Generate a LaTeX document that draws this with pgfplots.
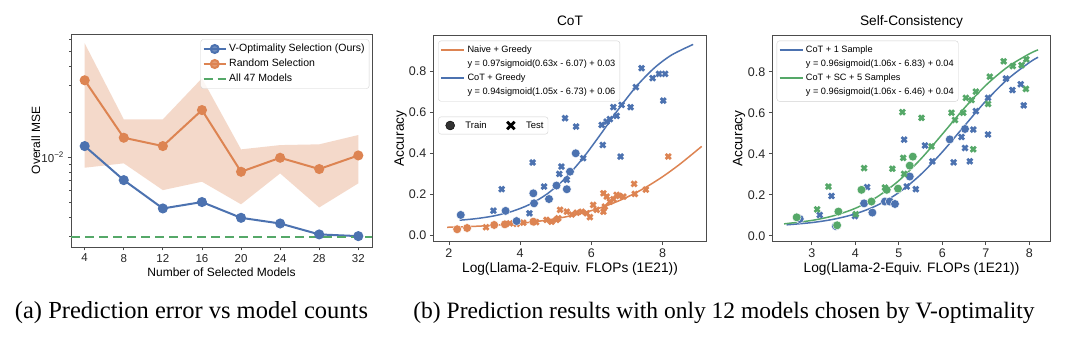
\documentclass[border=0pt]{standalone}
\usepackage{pgfplots}
\pgfplotsset{compat=1.18}
\usepackage{fontspec}
\setmainfont{Liberation Sans}
\newfontfamily\capfont{Liberation Serif}
\definecolor{cblue}{HTML}{4C72B0}
\definecolor{corange}{HTML}{DD8452}
\definecolor{cgreen}{HTML}{55A868}
\pgfplotsset{
  base/.style={scale only axis, anchor=south west,
    axis line style={draw=black!70, line width=0.8pt},
    every tick/.style={draw=black!70, line width=0.8pt},
    tick align=outside, major tick length=3.5pt, minor tick length=2pt,
    tick pos=left,
    tick label style={font=\fontsize{11.5}{13}\selectfont, text=black!85},
    label style={font=\fontsize{12}{14}\selectfont},
    title style={font=\fontsize{12}{14}\selectfont, at={(axis description cs:0.5,1)}, anchor=base, yshift=4.5pt},
    /pgf/number format/assume math mode=true,
    legend cell align=left,
    clip=false,
  },
  big/.style={
    tick label style={font=\fontsize{12.5}{14}\selectfont, text=black!85},
    label style={font=\fontsize{13.7}{16}\selectfont},
    title style={font=\fontsize{13.7}{16}\selectfont},
  },
  lg/.style={legend style={draw=black!18, rounded corners=2.5pt, fill=white, fill opacity=0.8, text opacity=1, draw opacity=1,
    inner xsep=2pt, inner ysep=2pt, row sep=0pt}},
  trn/.style={only marks, mark=*, mark size=4.4pt, mark options={fill=#1, draw=white, line width=0.4pt}},
  tst/.style={only marks, mark=x, mark size=3.6pt, mark options={draw=#1, line width=2.7pt}},
  fit/.style={#1, line width=1.5pt, smooth, no marks},
}
\begin{document}
\begin{tikzpicture}[x=1pt,y=1pt]
\useasboundingbox (0,0) rectangle (1080,343);
\fill[white] (0,0) rectangle (1080,343);

% ---------------- Panel (a)
\begin{axis}[base, lg, at={(71pt,96pt)}, width=301pt, height=213pt,
  xmin=2.6, xmax=33.4, ymode=log, ymin=2.55e-3, ymax=6.56e-2,
  xtick={4,8,12,16,20,24,28,32},
  ytick={0.01}, yticklabels={10\textsuperscript{−2}},
  minor ytick={0.003,0.004,0.005,0.006,0.007,0.008,0.009,0.02,0.03,0.04,0.05,0.06},
  xlabel={Number of Selected Models}, ylabel={Overall MSE},
  xlabel style={at={(axis description cs:0.5,0)}, anchor=base, yshift=-29pt},
  ylabel style={at={(axis description cs:0,0.5)}, anchor=base, yshift=31pt},
  legend style={at={(1,1)}, anchor=north east, xshift=-2.7pt, yshift=-5.3pt,
    font=\fontsize{10.5}{12}\selectfont,
    nodes={inner xsep=2.5pt, inner ysep=2.35pt, text height=8pt, text depth=2.3pt}},
  legend image code/.code={\draw[#1, mark repeat=2, mark phase=2] plot coordinates {(0pt,0pt) (11pt,0pt) (22pt,0pt)};},
]
\addplot[draw=none, fill=corange, fill opacity=0.3, forget plot] coordinates {
(4,0.0569) (8,0.01787) (12,0.01787) (16,0.0334) (20,0.0113) (24,0.01206) (28,0.0122) (32,0.01406)
(32,0.00673) (28,0.00466) (24,0.00783) (20,0.00489) (16,0.0069) (12,0.00607) (8,0.00913) (4,0.00854)};
\addplot[cblue, line width=2pt, mark=*, mark size=4pt, mark options={fill=cblue, draw=cblue}] coordinates {
(4,0.01188) (8,0.00707) (12,0.00459) (16,0.00506) (20,0.00398) (24,0.00365) (28,0.00309) (32,0.00301)};
\addlegendentry{V-Optimality Selection (Ours)}
\addplot[corange, line width=2pt, mark=*, mark size=4pt, mark options={fill=corange, draw=corange}] coordinates {
(4,0.0324) (8,0.01349) (12,0.01188) (16,0.02057) (20,0.00803) (24,0.00994) (28,0.00837) (32,0.0103)};
\addlegendentry{Random Selection}
\addplot[cgreen, line width=2pt, dash pattern=on 9pt off 5pt] coordinates {(2.6,0.00295) (33.4,0.00295)};
\addlegendentry{All 47 Models}
\end{axis}

% ---------------- Panel (b) CoT
\begin{axis}[base, big, lg, at={(433.3pt,101.3pt)}, width=273.4pt, height=206pt,
  xmin=1.56, xmax=9.24, ymin=-0.033, ymax=0.976,
  xtick={2,4,6,8}, ytick={0,0.2,0.4,0.6,0.8},
  yticklabel style={/pgf/number format/.cd, fixed, fixed zerofill, precision=1},
  title={CoT},
  xlabel={Log(Llama-2-Equiv. FLOPs (1E21))}, ylabel={Accuracy},
  xlabel style={at={(axis description cs:0.5,0)}, anchor=base, yshift=-31pt},
  ylabel style={at={(axis description cs:0,0.5)}, anchor=base, yshift=29.5pt},
  legend style={at={(0,1)}, anchor=north west, xshift=5pt, yshift=-5pt,
    font=\fontsize{9.2}{11}\selectfont,
    nodes={inner xsep=2.5pt, inner ysep=2.45pt, text height=7.2pt, text depth=2pt}},
  legend image code/.code={\draw[#1] (0pt,0pt) -- (23pt,0pt);},
]
\addplot[trn=corange, forget plot] coordinates {(2.23,0.028) (2.51,0.034) (3.27,0.049) (3.57,0.052) (4.37,0.065)};
\addplot[tst=corange, forget plot] coordinates {
(3.04,0.038) (3.71,0.057) (3.90,0.054) (4.09,0.060) (4.45,0.063) (4.74,0.074) (4.88,0.065) (5.02,0.074) (5.07,0.082)
(5.12,0.123) (5.31,0.114) (5.45,0.100) (5.59,0.109) (5.73,0.114) (5.87,0.106) (5.96,0.087) (6.05,0.147) (6.15,0.123)
(6.34,0.114) (6.38,0.139) (6.34,0.204) (6.43,0.188) (6.52,0.163) (6.62,0.175) (6.71,0.196) (6.78,0.191) (6.90,0.188)
(7.22,0.201) (7.20,0.250) (7.53,0.222) (8.16,0.384)};
\addplot[trn=cblue, forget plot] coordinates {
(2.33,0.098) (3.59,0.118) (3.90,0.068) (4.37,0.204) (4.39,0.155) (4.81,0.176) (5.02,0.242) (5.31,0.224) (5.40,0.310) (5.56,0.400)};
\addplot[tst=cblue, forget plot] coordinates {
(3.25,0.119) (3.48,0.224) (4.26,0.106) (4.35,0.355) (4.67,0.237) (5.10,0.299) (5.16,0.335) (5.31,0.270)
(5.26,0.572) (5.57,0.531) (5.77,0.376) (6.29,0.539) (6.32,0.441) (6.43,0.555) (6.52,0.567) (6.62,0.626)
(6.71,0.583) (6.82,0.384) (6.85,0.637) (7.10,0.626) (7.25,0.724) (7.41,0.817) (7.72,0.768) (7.90,0.789)
(8.07,0.789) (8.02,0.658)};
\addplot[fit=corange] coordinates {
(1.95,0.0376) (2.5,0.0407) (3,0.0446) (3.5,0.0499) (4,0.0571) (4.5,0.0667) (5,0.0796) (5.5,0.0968)
(6,0.1192) (6.5,0.1482) (7,0.1850) (7.5,0.2305) (8,0.2852) (8.5,0.3487) (9.1,0.4340)};
\addlegendentry{Naive + Greedy}
\addlegendimage{empty legend}
\addlegendentry{y = 0.97sigmoid(0.63x - 6.07) + 0.03}
\addplot[fit=cblue] coordinates {
(2.3,0.0724) (2.75,0.0797) (3.25,0.0929) (3.75,0.1143) (4.25,0.1482) (4.75,0.2001) (5.25,0.2747) (5.75,0.3735)
(6.25,0.4907) (6.75,0.6132) (7.25,0.7249) (7.75,0.8151) (8.25,0.8811) (8.86,0.9333)};
\addlegendentry{CoT + Greedy}
\addlegendimage{empty legend}
\addlegendentry{y = 0.94sigmoid(1.05x - 6.73) + 0.06}
\end{axis}
% Train/Test legend
\begin{axis}[scale only axis, anchor=south west, at={(433.3pt,101.3pt)}, width=273.4pt, height=206pt,
  hide axis, xmin=0, xmax=1, ymin=0, ymax=1, lg, legend columns=2,
  legend style={at={(0,1)}, anchor=north west, xshift=5pt, yshift=-81pt,
    font=\fontsize{9.5}{11}\selectfont,
    /tikz/every even column/.append style={column sep=12pt},
    nodes={inner xsep=2.5pt, inner ysep=2pt, text height=7.2pt, text depth=2pt}},
]
\addlegendimage{legend image code/.code={\path (0pt,0pt) (22pt,0pt); \fill[black] (9.5pt,0pt) circle[radius=4.5pt];}}
\addlegendentry{Train}
\addlegendimage{legend image code/.code={\path (0pt,0pt) (22pt,0pt); \draw[black, line width=2.8pt] (5.8pt,-3.7pt) -- (13.2pt,3.7pt) (5.8pt,3.7pt) -- (13.2pt,-3.7pt);}}
\addlegendentry{Test}
\end{axis}

% ---------------- Panel (b) Self-Consistency
\begin{axis}[base, big, lg, at={(772.3pt,101.3pt)}, width=278.4pt, height=206pt,
  xmin=2.09, xmax=8.49, ymin=-0.029, ymax=0.976,
  xtick={3,4,5,6,7,8}, ytick={0,0.2,0.4,0.6,0.8},
  yticklabel style={/pgf/number format/.cd, fixed, fixed zerofill, precision=1},
  title={Self-Consistency},
  xlabel={Log(Llama-2-Equiv. FLOPs (1E21))}, ylabel={Accuracy},
  xlabel style={at={(axis description cs:0.5,0)}, anchor=base, yshift=-31pt},
  ylabel style={at={(axis description cs:0,0.5)}, anchor=base, yshift=30pt},
  legend style={at={(0,1)}, anchor=north west, xshift=4.4pt, yshift=-5pt,
    font=\fontsize{9.2}{11}\selectfont,
    nodes={inner xsep=2.5pt, inner ysep=2.45pt, text height=7.2pt, text depth=2pt}},
  legend image code/.code={\draw[#1] (0pt,0pt) -- (23pt,0pt);},
]
\addplot[trn=cblue, forget plot] coordinates {
(2.72,0.082) (3.55,0.047) (4.20,0.158) (4.39,0.113) (4.68,0.167) (4.79,0.167) (4.91,0.155) (5.25,0.289) (6.17,0.470) (6.52,0.521)};
\addplot[tst=cblue, forget plot] coordinates {
(3.18,0.101) (3.45,0.194) (3.99,0.096) (4.27,0.237) (5.12,0.469) (5.18,0.240) (5.39,0.227) (5.60,0.440)
(5.77,0.363) (6.26,0.358) (6.44,0.482) (6.52,0.428) (6.63,0.363) (6.71,0.518) (6.77,0.608) (7.05,0.494)
(7.05,0.673) (7.46,0.767) (7.61,0.711) (7.80,0.739) (7.87,0.636)};
\addplot[trn=cgreen, forget plot] coordinates {
(2.65,0.090) (3.58,0.051) (3.61,0.118) (4.14,0.224) (4.37,0.167) (4.72,0.224) (4.98,0.230) (5.25,0.342) (5.32,0.386)};
\addplot[tst=cgreen, forget plot] coordinates {
(3.12,0.129) (3.38,0.240) (4.01,0.105) (4.20,0.330) (4.68,0.235) (4.85,0.327) (5.08,0.603) (5.10,0.380)
(5.12,0.302) (5.52,0.575) (5.75,0.436) (6.21,0.600) (6.29,0.565) (6.48,0.600) (6.54,0.673) (6.67,0.662)
(6.71,0.422) (6.77,0.703) (7.05,0.643) (7.09,0.776) (7.41,0.851) (7.62,0.828) (7.82,0.832) (7.93,0.861) (7.92,0.716)};
\addplot[fit=cblue] coordinates {
(2.42,0.0533) (3,0.0643) (3.5,0.0806) (4,0.1070) (4.5,0.1485) (5,0.2109) (5.5,0.2982) (6,0.4092)
(6.5,0.5344) (7,0.6577) (7.5,0.7638) (8,0.8453) (8.2,0.8709)};
\addlegendentry{CoT + 1 Sample}
\addlegendimage{empty legend}
\addlegendentry{y = 0.96sigmoid(1.06x - 6.83) + 0.04}
\addplot[fit=cgreen] coordinates {
(2.36,0.0580) (3,0.0748) (3.5,0.0977) (4,0.1341) (4.5,0.1896) (5,0.2691) (5.5,0.3736) (6,0.4960)
(6.5,0.6217) (7,0.7342) (7.5,0.8235) (8,0.8876) (8.2,0.9070)};
\addlegendentry{CoT + SC + 5 Samples}
\addlegendimage{empty legend}
\addlegendentry{y = 0.96sigmoid(1.06x - 6.46) + 0.04}
\end{axis}

% ---------------- Captions
\node[anchor=base, font=\capfont\fontsize{24.5}{27}\selectfont, inner sep=0pt] at (191.5,24) {(a) Prediction error vs model counts};
\node[anchor=base, font=\capfont\fontsize{23.5}{26}\selectfont, inner sep=0pt] at (724,24) {(b) Prediction results with only 12 models chosen by V-optimality};
\end{tikzpicture}
\end{document}
